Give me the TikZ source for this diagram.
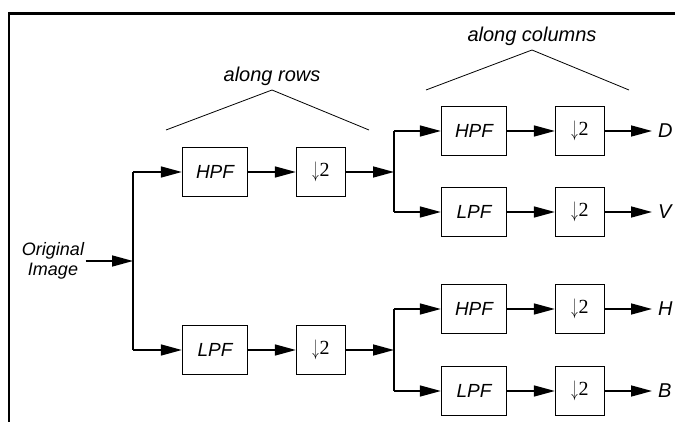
\documentclass[tikz,border=0pt]{standalone}
\usepackage{fontspec}
\setmainfont{Liberation Sans}
\newfontfamily\tmsfont{Liberation Serif}
\usetikzlibrary{arrows.meta}
\newcommand{\dsix}{{\fontsize{19}{19}\selectfont\raisebox{-1.5pt}{\scalebox{0.75}[1.3]{$\downarrow$}}}\kern1pt{\fontsize{20}{20}\selectfont\tmsfont 2}}
\begin{document}
\begin{tikzpicture}[x=1pt,y=-1pt,
  lbl/.style={font=\fontsize{20}{21}\selectfont\itshape, inner sep=0pt},
  filt/.style={draw, line width=1.3pt, minimum width=65pt, minimum height=49pt, inner sep=0pt, font=\fontsize{19}{20}\selectfont\itshape},
  dwn/.style={draw, line width=1.3pt, minimum width=49pt, minimum height=49pt, inner sep=0pt},
  conn/.style={line width=1.5pt},
  arr/.style={conn, -{Triangle[length=21pt,width=11pt]}},
  wedge/.style={line width=0.8pt}]
\useasboundingbox (0,0) rectangle (675,422);
% frame
\coordinate (ftl) at (8,13.5);
\coordinate (ftr) at (675,13.5);
\coordinate (fl1) at (9,12);
\coordinate (fl2) at (9,422);
\draw[line width=3pt] (ftl) -- (ftr);
\draw[line width=2pt] (fl1) -- (fl2);
% headings
\node[lbl] (rows) at (272,76) {along rows};
\node[lbl] (cols) at (532,36) {along columns};
\coordinate (rw1) at (166,130);
\coordinate (rwa) at (272,90);
\coordinate (rw2) at (369,130);
\coordinate (cw1) at (426,90);
\coordinate (cwa) at (532,50);
\coordinate (cw2) at (629,90);
\draw[wedge] (rw1) -- (rwa) -- (rw2);
\draw[wedge] (cw1) -- (cwa) -- (cw2);
% input
\node[lbl, align=center, inner sep=1.5pt, font=\fontsize{18}{20}\selectfont\itshape] (orig) at (53,261) {Original\\Image};
\coordinate (s1) at (133,261);
\coordinate (s1t) at (133,172);
\coordinate (s1b) at (133,350);
% row filters
\node[filt] (hr) at (215,172) {HPF};
\node[filt] (lr) at (215,350) {LPF};
\node[dwn] (dhr) at (321,172) {\dsix};
\node[dwn] (dlr) at (321,350) {\dsix};
% splits
\coordinate (s2) at (394,172);
\coordinate (s2t) at (394,131);
\coordinate (s2b) at (394,212);
\coordinate (s3) at (394,350);
\coordinate (s3t) at (394,309);
\coordinate (s3b) at (394,391);
% column filters
\node[filt] (hh) at (474,131) {HPF};
\node[filt] (hl) at (474,212) {LPF};
\node[filt] (lh) at (474,309) {HPF};
\node[filt] (ll) at (474,391) {LPF};
\node[dwn] (dhh) at (580,131) {\dsix};
\node[dwn] (dhl) at (580,212) {\dsix};
\node[dwn] (dlh) at (580,309) {\dsix};
\node[dwn] (dll) at (580,391) {\dsix};
% outputs
\node[lbl, anchor=west] (D) at (658,131) {D};
\node[lbl, anchor=west] (V) at (658,212) {V};
\node[lbl, anchor=west] (H) at (658,309) {H};
\node[lbl, anchor=west] (B) at (658,391) {B};
% connectors
\draw[arr] (orig.east) -- (s1);
\draw[conn] (s1t) -- (s1b);
\draw[arr] (s1t) -- (hr.west);
\draw[arr] (s1b) -- (lr.west);
\draw[arr] (hr) -- (dhr);
\draw[arr] (lr) -- (dlr);
\draw[arr] (dhr) -- (s2);
\draw[arr] (dlr) -- (s3);
\draw[conn] (s2t) -- (s2b);
\draw[conn] (s3t) -- (s3b);
\draw[arr] (s2t) -- (hh.west);
\draw[arr] (s2b) -- (hl.west);
\draw[arr] (s3t) -- (lh.west);
\draw[arr] (s3b) -- (ll.west);
\draw[arr] (hh) -- (dhh);
\draw[arr] (hl) -- (dhl);
\draw[arr] (lh) -- (dlh);
\draw[arr] (ll) -- (dll);
\draw[arr, shorten >=6pt] (dhh) -- (D.west);
\draw[arr, shorten >=6pt] (dhl) -- (V.west);
\draw[arr, shorten >=6pt] (dlh) -- (H.west);
\draw[arr, shorten >=6pt] (dll) -- (B.west);
\end{tikzpicture}
\end{document}
